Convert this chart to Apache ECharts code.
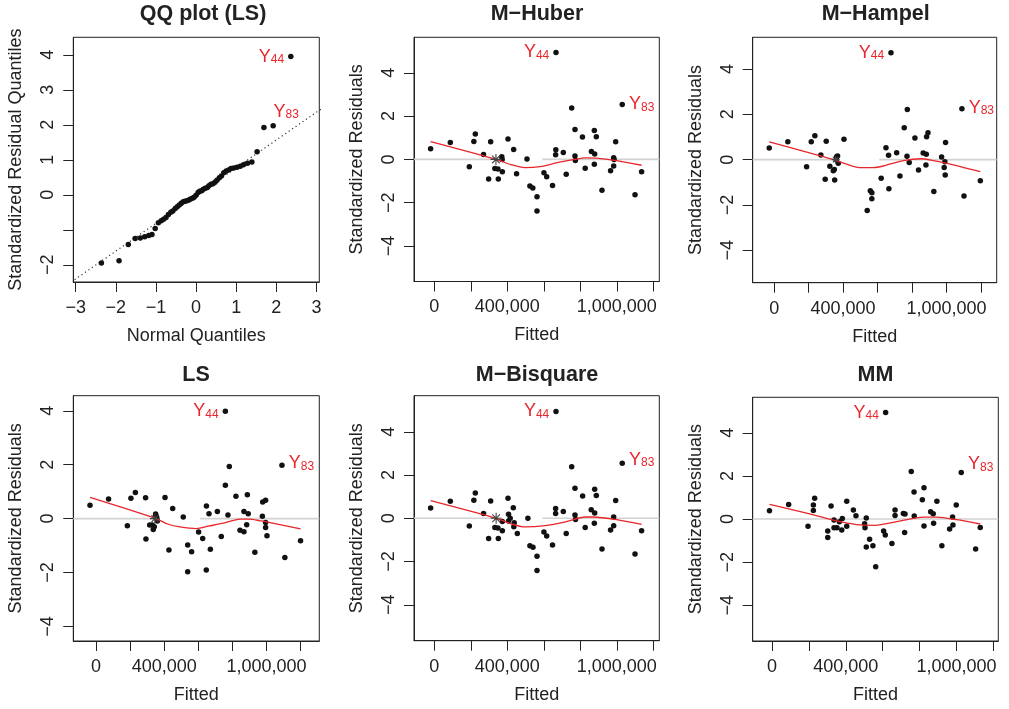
<!DOCTYPE html>
<html>
<head>
<meta charset="utf-8">
<title>Standardized residual plots</title>
<script src="https://cdn.jsdelivr.net/npm/echarts@6/dist/echarts.min.js"></script>
<style>
  html, body { margin: 0; padding: 0; background: #fff; }
  #chart { width: 1009px; height: 709px; }
</style>
</head>
<body>
<div id="chart"></div>
<script>
// ---- values ----

// QQ plot (LS): normal quantiles vs sorted standardized residuals
const qqTheo = [-2.36, -1.92, -1.69, -1.52, -1.39, -1.28, -1.18, -1.10, -1.02, -0.94,
  -0.87, -0.81, -0.75, -0.69, -0.63, -0.58, -0.52, -0.47, -0.42, -0.37,
  -0.32, -0.28, -0.23, -0.18, -0.14, -0.09, -0.05, 0, 0.05, 0.09,
  0.14, 0.18, 0.23, 0.28, 0.32, 0.37, 0.42, 0.47, 0.52, 0.58,
  0.63, 0.69, 0.75, 0.81, 0.87, 0.94, 1.02, 1.10, 1.18, 1.28,
  1.39, 1.52, 1.69, 1.92, 2.36]
const qqResid = [-1.95, -1.88, -1.42, -1.25, -1.23, -1.20, -1.16, -1.13, -0.96, -0.80,
  -0.74, -0.70, -0.65, -0.56, -0.50, -0.46, -0.39, -0.34, -0.29, -0.24,
  -0.20, -0.18, -0.17, -0.15, -0.12, -0.10, -0.07, -0.01, 0.07, 0.10,
  0.12, 0.16, 0.19, 0.21, 0.26, 0.30, 0.32, 0.36, 0.42, 0.49,
  0.54, 0.63, 0.68, 0.71, 0.75, 0.77, 0.79, 0.82, 0.86, 0.90,
  0.94, 1.23, 1.92, 1.97, 3.95]
const qqLine = [[-3.2, -2.56], [3.2, 2.52]]
const qqLabelIdx = { y44: 54, y83: 53 }

// tick values
const qqXTicks = [-3, -2, -1, 0, 1, 2, 3]
const qqYTicks = [-2, -1, 0, 1, 2, 3, 4]
const qqYLabels = [-2, 0, 1, 2, 3, 4]
const fittedTicks = [0, 200000, 400000, 600000, 800000, 1000000, 1200000]
const fittedLabels = [0, 400000, 1000000]
const residTicks = [-4, -2, 0, 2, 4]

// M-Huber: [fitted, standardized residual]
const huberPts = [[-20000, 0.49], [88000, 0.78], [192000, -0.34], [217000, 0.83], [225000, 1.17],
  [270000, 0.23], [298000, -0.91], [309000, 0.82], [332000, -0.42], [349000, -0.44], [351000, -0.91],
  [370000, 0.12], [372000, 0.0], [373000, -0.57], [404000, 0.94], [435000, 0.46], [451000, -0.66],
  [508000, 0.02], [524000, -1.23], [540000, -1.32], [563000, -1.73], [563000, -2.38], [601000, -0.62],
  [616000, -0.80], [648000, -1.20], [666000, 0.45], [665000, 0.21], [707000, 0.32], [723000, -0.69],
  [753000, 2.38], [771000, 1.38], [771000, 0.16], [773000, -0.05], [812000, 1.04], [827000, -0.41],
  [861000, 0.37], [877000, 1.34], [879000, 0.25], [877000, -0.22], [888000, 1.05], [919000, -1.42],
  [966000, -0.52], [983000, 0.08], [983000, -0.31], [985000, 0.0], [994000, 0.82], [1100000, -1.63],
  [1136000, -0.57]]
const huberOut = [[667000, 4.94], [1030000, 2.54]]
const huberFit = [[-20000, 0.82], [340000, 0.0], [420000, -0.24], [497000, -0.38], [580000, -0.33],
  [680000, -0.14], [770000, 0.0], [830000, 0.07], [890000, 0.06], [1000000, -0.06], [1136000, -0.27]]
const huberZeroGap = [345000, 592000]
const huberStar = [[338000, 0]]

// M-Hampel
const hampelPts = [[-29000, 0.51], [79000, 0.79], [188000, -0.31], [215000, 0.79], [236000, 1.06],
  [271000, 0.21], [296000, -0.87], [302000, 0.81], [323000, -0.29], [343000, -0.49], [349000, -0.43],
  [351000, -0.90], [362000, 0.13], [368000, 0.16], [372000, -0.16], [360000, 0.0], [405000, 0.90],
  [540000, -2.24], [558000, -1.37], [567000, -1.46], [567000, -1.72], [621000, -0.82], [649000, 0.53],
  [664000, 0.19], [666000, -1.28], [711000, 0.31], [730000, -0.72], [755000, 1.41], [773000, 2.21],
  [771000, 0.15], [784000, -0.12], [817000, 0.96], [838000, -0.46], [865000, 0.29], [881000, -0.24],
  [883000, 0.24], [885000, 1.01], [893000, 1.19], [927000, -1.41], [972000, 0.12], [987000, -0.35],
  [991000, -0.09], [993000, -0.68], [995000, 0.76], [1102000, -1.60], [1197000, -0.93]]
const hampelOut = [[678000, 4.72], [1090000, 2.25]]
const hampelFit = [[-29000, 0.79], [343000, 0.01], [420000, -0.20], [492000, -0.35], [575000, -0.35],
  [633000, -0.28], [749000, -0.04], [856000, 0.04], [923000, -0.04], [1003000, -0.16], [1197000, -0.53]]
const hampelZeroGap = [343000, 610000]
const hampelStar = [[357000, 0]]

// LS
const lsPts = [[-35000, 0.50], [74000, 0.73], [184000, -0.26], [205000, 0.76], [231000, 0.97],
  [291000, 0.77], [293000, -0.76], [315000, -0.24], [330000, -0.24], [336000, -0.40], [342000, -0.30],
  [350000, 0.17], [356000, 0.05], [360000, -0.09], [352000, 0.10], [405000, 0.78], [428000, -1.16],
  [450000, 0.38], [512000, 0.06], [538000, -0.98], [538000, -1.97], [561000, -1.23], [602000, -0.50],
  [626000, -0.74], [648000, 0.47], [647000, -1.91], [663000, 0.18], [671000, -1.14], [712000, 0.26],
  [735000, -0.66], [759000, 1.24], [774000, 0.13], [782000, 1.93], [821000, 0.83], [845000, -0.43],
  [868000, -0.49], [868000, 0.26], [884000, -0.23], [888000, 0.89], [893000, 0.18], [932000, -1.25],
  [976000, 0.09], [978000, 0.62], [995000, 0.68], [995000, -0.33], [995000, -0.14], [1003000, -0.64],
  [1108000, -1.44], [1200000, -0.82]]
const lsOut = [[759000, 3.98], [1091000, 1.98]]
const lsFit = [[-35000, 0.79], [346000, 0.02], [420000, -0.20], [493000, -0.31], [590000, -0.37],
  [660000, -0.28], [747000, -0.17], [845000, -0.02], [900000, -0.02], [962000, -0.08], [1001000, -0.12],
  [1200000, -0.38]]
const lsZeroGap = [360000, 610000]
const lsStar = [[346000, 0]]

// M-Bisquare
const bisqPts = [[-20000, 0.48], [88000, 0.79], [192000, -0.36], [217000, 0.83], [225000, 1.17],
  [270000, 0.22], [298000, -0.93], [309000, 0.80], [332000, -0.43], [349000, -0.45], [351000, -0.93],
  [373000, -0.15], [373000, -0.57], [404000, 0.93], [407000, 0.19], [416000, 0.0], [407000, -0.12],
  [433000, 0.49], [438000, -0.20], [436000, -0.39], [455000, -0.70], [513000, 0.0], [524000, -1.27],
  [541000, -1.34], [563000, -1.76], [563000, -2.41], [601000, -0.63], [616000, -0.82], [648000, -1.24],
  [665000, 0.45], [665000, 0.22], [707000, 0.32], [723000, -0.70], [753000, 2.38], [771000, 1.39],
  [771000, 0.15], [774000, -0.05], [813000, 1.03], [827000, -0.42], [860000, 0.39], [879000, 1.34],
  [879000, 0.25], [877000, -0.23], [888000, 1.05], [919000, -1.42], [966000, -0.54], [983000, 0.06],
  [983000, -0.34], [994000, 0.82], [1100000, -1.65], [1136000, -0.57]]
const bisqOut = [[667000, 4.94], [1030000, 2.55]]
const bisqFit = [[-20000, 0.82], [342000, 0.0], [420000, -0.25], [497000, -0.40], [606000, -0.34],
  [725000, -0.15], [826000, 0.06], [871000, 0.06], [999000, -0.06], [1136000, -0.28]]
const bisqZeroGap = [330000, 592000]
const bisqStar = [[339000, 0]]

// MM
const mmPts = [[-14000, 0.39], [90000, 0.68], [195000, -0.34], [224000, 0.65], [224000, 0.40],
  [231000, 0.96], [302000, -0.56], [302000, -0.86], [320000, 0.60], [336000, -0.05], [336000, -0.40],
  [352000, -0.40], [365000, -0.12], [378000, -0.51], [381000, 0.03], [405000, 0.83], [405000, -0.34],
  [441000, 0.42], [455000, 0.15], [502000, -0.22], [504000, -0.40], [511000, 0.05], [511000, -1.30],
  [529000, -0.94], [547000, -1.24], [562000, -2.21], [605000, -0.56], [614000, -0.74], [650000, -1.13],
  [667000, 0.42], [667000, 0.17], [712000, 0.26], [721000, 0.23], [719000, -0.62], [755000, 2.21],
  [770000, 1.25], [771000, 0.14], [815000, 0.90], [824000, 1.45], [824000, -0.32], [860000, 0.34],
  [874000, 0.25], [876000, -0.20], [894000, 0.83], [921000, -1.24], [963000, -0.46], [979000, 0.09],
  [981000, -0.28], [999000, 0.65], [1104000, -1.39], [1129000, -0.39]]
const mmOut = [[616000, 4.94], [1026000, 2.16]]
const mmFit = [[-14000, 0.68], [170000, 0.31], [350000, -0.09], [459000, -0.26], [558000, -0.29],
  [676000, -0.12], [820000, 0.09], [893000, 0.09], [1001000, -0.03], [1129000, -0.23]]

// ---- styling / layout ----
const FONT = '"Liberation Sans", Arial, Helvetica, sans-serif'
const INK = '#222'
const RED = '#e8262b'
const DOT = '#111'

const minus = v => String(v).replace('-', '\u2212')
const commas = v => minus(Number(v).toLocaleString('en-US'))

const txt = { fontSize: 18, color: INK, fontFamily: FONT }

// layout of each residual panel: box = [left, top, width, height] in px, axis ranges in data units
const panels = [
  { title: 'M\u2212Huber', box: [414, 37.3, 245.3, 244.2], x: [-111000, 1233000], y: [-5.64, 5.64],
    pts: huberPts, out: huberOut, fit: huberFit, gap: huberZeroGap, star: huberStar, starSize: 11,
    tx: 537, ty: 14, d83: 0 },
  { title: 'M\u2212Hampel', box: [752.7, 37.3, 244, 245.4], x: [-125000, 1292000], y: [-5.43, 5.40],
    pts: hampelPts, out: hampelOut, fit: hampelFit, gap: hampelZeroGap, star: hampelStar, starSize: 8,
    tx: 875.7, ty: 14, d83: -1 },
  { title: 'LS', box: [73.3, 395.7, 246, 245.3], x: [-133000, 1310000], y: [-4.54, 4.56],
    pts: lsPts, out: lsOut, fit: lsFit, gap: lsZeroGap, star: lsStar, starSize: 10,
    tx: 196, ty: 375, d83: -2 },
  { title: 'M\u2212Bisquare', box: [414, 395.7, 245.3, 245], x: [-111000, 1233000], y: [-5.66, 5.67],
    pts: bisqPts, out: bisqOut, fit: bisqFit, gap: bisqZeroGap, star: bisqStar, starSize: 11,
    tx: 537, ty: 375, d83: -3 },
  { title: 'MM', box: [752.7, 397.3, 245.6, 243.7], x: [-105000, 1227000], y: [-5.66, 5.65],
    pts: mmPts, out: mmOut, fit: mmFit, gap: null, star: null, starSize: 0,
    tx: 875.5, ty: 375, d83: -8 }
]

const subLabel = (num, pos, extra) => Object.assign({
  show: true,
  position: pos,
  distance: 4,
  formatter: '{y|Y}{s|' + num + '}',
  rich: {
    y: { fontSize: 18, lineHeight: 18, color: RED, fontFamily: FONT },
    s: { fontSize: 12, lineHeight: 12, verticalAlign: 'bottom', color: RED, fontFamily: FONT }
  }
}, extra || {})

function makeGrid(box) {
  return {
    left: box[0], top: box[1], width: box[2], height: box[3],
    show: true, borderColor: INK, borderWidth: 1, backgroundColor: 'transparent'
  }
}

function makeX(i, range, ticks, labels, name, fmt) {
  return {
    type: 'value', gridIndex: i, min: range[0], max: range[1], position: 'bottom',
    axisLine: { show: true, onZero: false, lineStyle: { color: INK, width: 1 } },
    axisTick: { show: true, length: 10, customValues: ticks, lineStyle: { color: INK, width: 1 } },
    axisLabel: Object.assign({ customValues: labels, formatter: fmt, margin: 17 }, txt),
    splitLine: { show: false },
    name: name, nameLocation: 'middle', nameGap: 45, nameTextStyle: txt
  }
}

function makeY(i, range, ticks, labels, name) {
  return {
    type: 'value', gridIndex: i, min: range[0], max: range[1], position: 'left',
    axisLine: { show: true, onZero: false, lineStyle: { color: INK, width: 1 } },
    axisTick: { show: true, length: 10, customValues: ticks, lineStyle: { color: INK, width: 1 } },
    axisLabel: Object.assign({ customValues: labels, formatter: minus, margin: 16, rotate: 90 }, txt),
    splitLine: { show: false },
    name: name, nameLocation: 'middle', nameGap: 48, nameTextStyle: txt
  }
}

const grid = [makeGrid([73.3, 37.3, 246, 244.7])]
const xAxis = [makeX(0, [-3.06, 3.07], qqXTicks, qqXTicks, 'Normal Quantiles', minus)]
const yAxis = [makeY(0, [-2.49, 4.5], qqYTicks, qqYLabels, 'Standardized Residual Quantiles')]
const title = [{ text: 'QQ plot (LS)', left: 203, top: 14 }]
const series = []

// QQ panel
series.push({
  type: 'line', xAxisIndex: 0, yAxisIndex: 0, data: qqLine, symbol: 'none', silent: true,
  lineStyle: { color: '#333', width: 1.2, type: [1.2, 3] }, z: 2
})
series.push({
  type: 'scatter', xAxisIndex: 0, yAxisIndex: 0, symbol: 'circle', symbolSize: 5.5,
  itemStyle: { color: DOT, opacity: 1 }, z: 3,
  data: qqTheo.map((q, i) => {
    const item = { value: [q, qqResid[i]] }
    if (i === qqLabelIdx.y44) item.label = subLabel(44, 'left', { distance: 4 })
    if (i === qqLabelIdx.y83) item.label = subLabel(83, 'top', { distance: 2, offset: [13, 0] })
    return item
  })
})

panels.forEach((p, k) => {
  const i = k + 1
  grid.push(makeGrid(p.box))
  xAxis.push(makeX(i, p.x, fittedTicks, fittedLabels, 'Fitted', commas))
  yAxis.push(makeY(i, p.y, residTicks, residTicks, 'Standardized Residuals'))
  title.push({ text: p.title, left: p.tx, top: p.ty })

  const segs = p.gap ? [[p.x[0], p.gap[0]], [p.gap[1], p.x[1]]] : [[p.x[0], p.x[1]]]
  segs.forEach(s => series.push({
    type: 'line', xAxisIndex: i, yAxisIndex: i, symbol: 'none', silent: true, z: 1,
    data: [[s[0], 0], [s[1], 0]], lineStyle: { color: '#d2d2d2', width: 1.6 }
  }))
  series.push({
    type: 'scatter', xAxisIndex: i, yAxisIndex: i, symbol: 'circle', symbolSize: 5.5,
    itemStyle: { color: DOT, opacity: 1 }, z: 3, data: p.pts
  })
  series.push({
    type: 'scatter', xAxisIndex: i, yAxisIndex: i, symbol: 'circle', symbolSize: 5.5,
    itemStyle: { color: DOT, opacity: 1 }, z: 3,
    data: [
      { value: p.out[0], label: subLabel(44, 'left', { distance: 4 }) },
      { value: p.out[1], label: subLabel(83, 'right', { distance: 4, offset: [0, p.d83] }) }
    ]
  })
  series.push({
    type: 'line', xAxisIndex: i, yAxisIndex: i, symbol: 'none', silent: true, z: 4,
    smooth: 0.25, data: p.fit, lineStyle: { color: RED, width: 1.3 }
  })
  if (p.star) {
    series.push({
      type: 'scatter', xAxisIndex: i, yAxisIndex: i, z: 5, silent: true,
      symbol: 'path://M0,-1L0,1M-1,0L1,0M-0.7,-0.7L0.7,0.7M-0.7,0.7L0.7,-0.7',
      symbolSize: p.starSize, data: p.star,
      itemStyle: { color: 'none', borderColor: '#444', borderWidth: 1.1, opacity: 1 }
    })
  }
})

title.forEach(t => Object.assign(t, {
  textAlign: 'center', textVerticalAlign: 'middle', padding: 0,
  textStyle: { fontSize: 21.5, fontWeight: 'bold', color: INK, fontFamily: FONT }
}))

const chart = echarts.init(document.getElementById('chart'), null, { renderer: 'canvas' })
chart.setOption({
  backgroundColor: '#fff',
  animation: false,
  textStyle: { fontFamily: FONT },
  title: title,
  grid: grid,
  xAxis: xAxis,
  yAxis: yAxis,
  series: series
})
</script>
</body>
</html>
